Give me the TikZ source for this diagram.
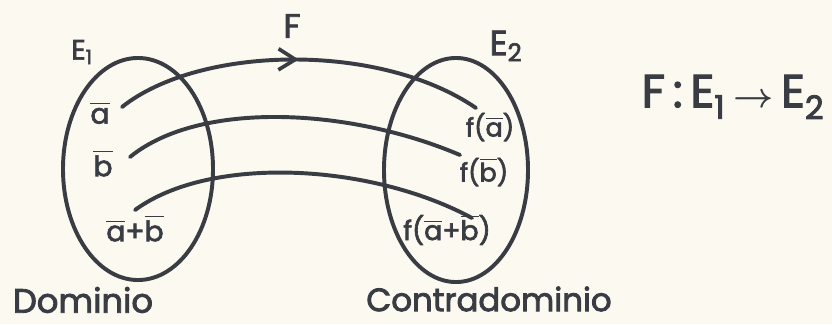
\documentclass[tikz,border=0pt]{standalone}
\usepackage{amsmath}
\usepackage{fontspec}
\setmainfont{Poppins}[BoldFont=Poppins, BoldFeatures={FakeBold=2.5}]
\usepackage{tikz}
\usetikzlibrary{arrows.meta, shapes.geometric, decorations.markings}

\definecolor{ink}{RGB}{58,60,68}
\definecolor{paper}{RGB}{251,249,240}

\newcommand{\vb}[1]{$\overline{\mbox{#1}}$}

\begin{document}
\begin{tikzpicture}[
            x=0.025cm, y=-0.025cm,
            ink, line width=2.8pt,
            setbox/.style={draw=ink, ellipse, line width=2.8pt, minimum width=3.75cm, minimum height=5.55cm, inner sep=0pt},
            map/.style={line cap=round},
            midarrow/.style={postaction={decorate}, decoration={markings,
                mark=at position 0.5 with {\arrow{Straight Barb[length=12pt, width=15pt, line width=2.6pt]}}}},
            lbl/.style={text=ink, inner sep=1pt, font=\fontsize{20}{24}\selectfont\bfseries},
            elt/.style={text=ink, inner sep=1pt, font=\fontsize{18}{22}\selectfont\bfseries},
            big/.style={text=ink, inner sep=1pt, font=\fontsize{24}{28}\selectfont\bfseries}
        ]

        % 1. Paper
        \fill[paper] (0,0) rectangle (832,324);
        \useasboundingbox (0,0) rectangle (832,324);

        % 2. The two sets
        \node[setbox] (E1set) at (138,169) {};
        \node[setbox, minimum width=3.6cm, minimum height=5.6cm] (E2set) at (456,170) {};

        % 3. Set names and captions
        \node[lbl] (e1) at (82,52) {E\textsubscript{1}};
        \node[lbl, font=\fontsize{25}{29}\selectfont\bfseries] (e2) at (506,46) {E\textsubscript{2}};
        \node[lbl, font=\fontsize{24}{28}\selectfont\bfseries] (F) at (292,26) {F};
        \node[big] (dom) at (83,300) {Dominio};
        \node[big, font=\fontsize{23}{27}\selectfont\bfseries] (cod) at (489,299) {Contradominio};
        \node[big, font=\fontsize{33}{37}\selectfont\bfseries] (rule) at (733,97) {F\,:\,E\textsubscript{1}\,$\boldsymbol{\rightarrow}$\,E\textsubscript{2}};

        % 4. Elements of E1
        \node[lbl] (la) at (100,113) {\vb{a}};
        \node[lbl] (lb) at (103,163) {\vb{b}};
        \node[lbl] (lab) at (135,228) {\vb{a}+\vb{b}};

        % 5. Images in E2
        \node[elt] (fa) at (490,127) {f(\vb{a})};
        \node[elt] (fb) at (484,172) {f(\vb{b})};
        \node[elt, font=\fontsize{19}{23}\selectfont\bfseries] (fab) at (447,230) {f(\vb{a}+\vb{b})};

        % 6. End points of the mapping curves
        \coordinate (sa) at (122,107);
        \coordinate (ta) at (476,108);
        \coordinate (sb) at (130,157);
        \coordinate (tb) at (460,155);
        \coordinate (sab) at (135,210);
        \coordinate (tab) at (472,218);

        % 7. Mapping curves
        \draw[map, midarrow] (sa) .. controls (200,45) and (380,42) .. (ta);
        \draw[map] (sb) .. controls (200,100) and (350,108) .. (tb);
        \draw[map] (sab) .. controls (210,155) and (370,163) .. (tab);

\end{tikzpicture}
\end{document}
